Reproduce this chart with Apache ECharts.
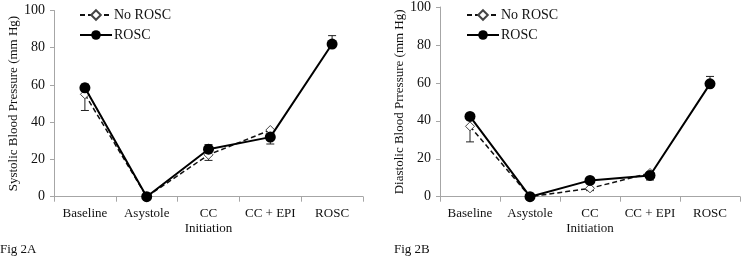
<!DOCTYPE html>
<html><head><meta charset="utf-8">
<script src="https://cdn.jsdelivr.net/npm/echarts@6/dist/echarts.min.js"></script>
<style>html,body{margin:0;padding:0;background:#fff}#c{width:744px;height:262px}</style>
</head><body><div id="c"></div>
<script>
var categories = ['Baseline', 'Asystole', 'CC\nInitiation', 'CC + EPI', 'ROSC'];
var yTicks = [0, 20, 40, 60, 80, 100];
var seriesNames = ['No ROSC', 'ROSC'];
// Systolic (Fig 2A)
var sysNoRosc = [55, 0, 22.5, 35.8, null];
var sysRosc = [58.5, 0, 25.5, 32, 82];
var sysNoRoscErrEnd = [46.3, null, 19.5, null, null];
var sysRoscErrEnd = [60.5, null, 28, 28.3, 86.5];
// Diastolic (Fig 2B)
var diaNoRosc = [37.1, 0, 4.4, 12.5, null];
var diaRosc = [42.3, 0, 8.6, 11.2, 59.5];
var diaNoRoscErrEnd = [28.9, null, 3.2, null, null];
var diaRoscErrEnd = [43.6, null, null, 8.8, 63.4];
var yTitles = ['Systolic Blood Pressure (mm Hg)', 'Diastolic Blood Prressure (mm Hg)'];
var figLabels = ['Fig 2A', 'Fig 2B'];

var FONT = '"Liberation Serif", serif';
var AX = '#a6a6a6';

function errData(means, ends) {
  var out = [];
  for (var i = 0; i < means.length; i++) {
    if (means[i] != null && ends[i] != null) out.push([i, means[i], ends[i]]);
  }
  return out;
}
function errRender(params, api) {
  var a = api.coord([api.value(0), api.value(1)]);
  var b = api.coord([api.value(0), api.value(2)]);
  var w = 4;
  return {
    type: 'group',
    children: [
      {type: 'line', shape: {x1: a[0], y1: a[1], x2: b[0], y2: b[1]}, style: {stroke: '#222', lineWidth: 1}},
      {type: 'line', shape: {x1: b[0] - w, y1: b[1], x2: b[0] + w, y2: b[1]}, style: {stroke: '#222', lineWidth: 1}}
    ]
  };
}
function xAxis(idx) {
  return {
    type: 'category', gridIndex: idx, data: categories, boundaryGap: true,
    axisLine: {lineStyle: {color: AX, width: 1}},
    axisTick: {show: true, length: 5, lineStyle: {color: AX}},
    axisLabel: {color: '#111', fontFamily: FONT, fontSize: 13, margin: 9, lineHeight: 15, interval: 0}
  };
}
function yAxis(idx, name, gap) {
  return {
    type: 'value', gridIndex: idx, min: 0, max: 100, interval: 20,
    name: name, nameLocation: 'middle', nameGap: gap, nameRotate: 90,
    nameTextStyle: {color: '#111', fontFamily: FONT, fontSize: 13},
    splitLine: {show: false},
    axisLine: {show: true, lineStyle: {color: AX, width: 1}},
    axisTick: {show: true, length: 4, lineStyle: {color: AX}},
    axisLabel: {color: '#111', fontFamily: FONT, fontSize: 14, margin: 9,
      formatter: function (v) { return yTicks.indexOf(v) >= 0 ? String(v) : ''; }}
  };
}
function lineSeries(idx, data, noRosc) {
  if (noRosc) {
    return {
      name: seriesNames[0], type: 'line', xAxisIndex: idx, yAxisIndex: idx, data: data,
      symbol: 'diamond', symbolSize: 9, z: 3,
      lineStyle: {color: '#111', width: 1.5, type: [5, 3]},
      itemStyle: {color: '#fff', borderColor: '#444', borderWidth: 1},
      emphasis: {disabled: true}
    };
  }
  return {
    name: seriesNames[1], type: 'line', xAxisIndex: idx, yAxisIndex: idx, data: data,
    symbol: 'circle', symbolSize: 11, z: 4,
    lineStyle: {color: '#000', width: 2, type: 'solid'},
    itemStyle: {color: '#000', borderColor: '#000', borderWidth: 0},
    emphasis: {disabled: true}
  };
}
function errSeries(idx, means, ends, z) {
  return {type: 'custom', xAxisIndex: idx, yAxisIndex: idx, renderItem: errRender,
    data: errData(means, ends), z: z, silent: true};
}
function legend(left) {
  return {
    left: left, top: 3, orient: 'vertical', itemGap: 6, itemWidth: 32, itemHeight: 12,
    data: seriesNames, selectedMode: false,
    textStyle: {color: '#111', fontFamily: FONT, fontSize: 14, padding: [0, 0, 0, -3]}
  };
}

var chart = echarts.init(document.getElementById('c'), null, {renderer: 'canvas'});
chart.setOption({
  animation: false,
  backgroundColor: '#fff',
  grid: [
    {left: 54, right: 381, top: 10.5, bottom: 65.3},
    {left: 440, right: 4, top: 6.7, bottom: 65.3}
  ],
  legend: [legend(74), legend(461)],
  xAxis: [xAxis(0), xAxis(1)],
  yAxis: [yAxis(0, yTitles[0], 32), yAxis(1, yTitles[1], 32)],
  graphic: [
    {type: 'text', left: 0, top: 243, style: {text: figLabels[0], font: '13px ' + FONT, fill: '#111'}},
    {type: 'text', left: 394, top: 243, style: {text: figLabels[1], font: '13px ' + FONT, fill: '#111'}}
  ],
  series: [
    errSeries(0, sysNoRosc, sysNoRoscErrEnd, 2),
    errSeries(0, sysRosc, sysRoscErrEnd, 2),
    lineSeries(0, sysNoRosc, true),
    lineSeries(0, sysRosc, false),
    errSeries(1, diaNoRosc, diaNoRoscErrEnd, 2),
    errSeries(1, diaRosc, diaRoscErrEnd, 2),
    lineSeries(1, diaNoRosc, true),
    lineSeries(1, diaRosc, false)
  ]
});
</script>
</body></html>
